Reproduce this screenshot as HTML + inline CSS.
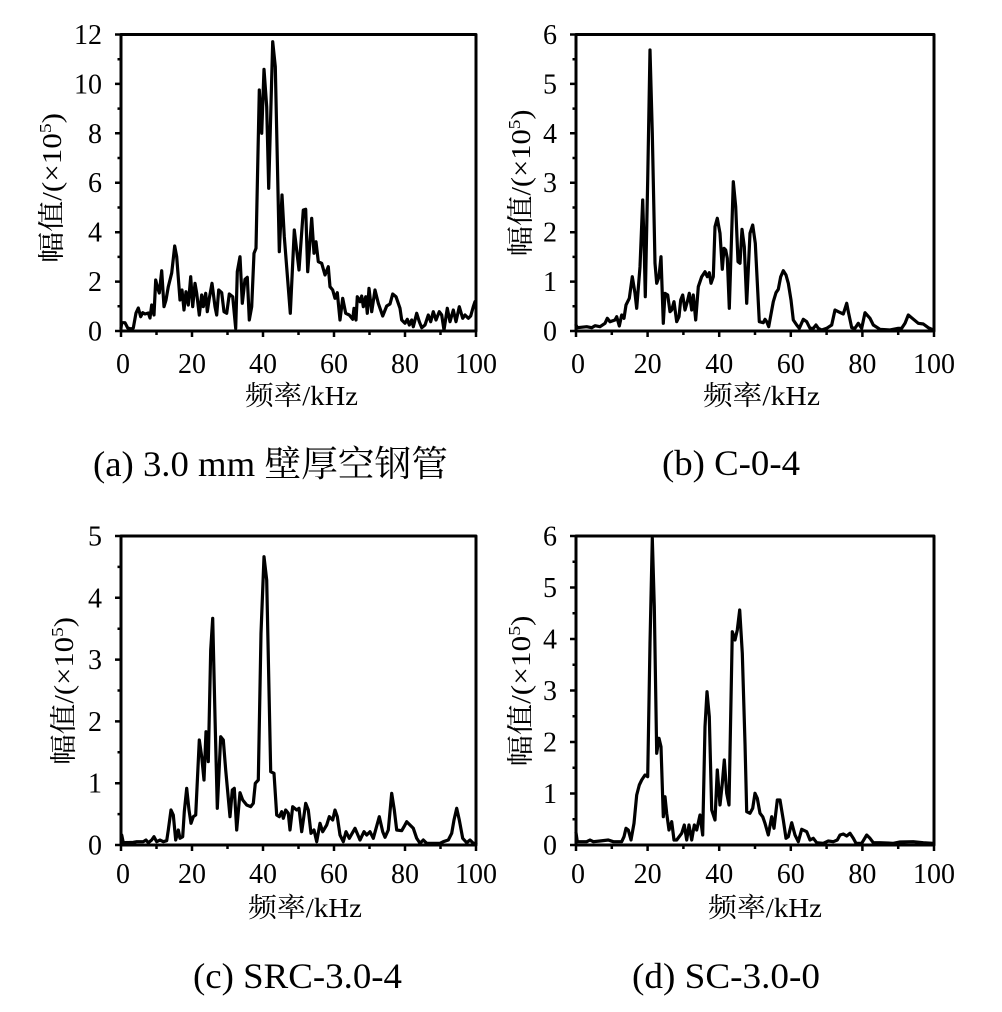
<!DOCTYPE html>
<html><head><meta charset="utf-8"><style>
html,body{margin:0;padding:0;background:#fff;}
svg{display:block;}
text{font-family:"Liberation Serif","Noto Serif CJK SC",serif;fill:#000;}
</style></head><body>
<svg width="1002" height="1012" viewBox="0 0 1002 1012" xmlns="http://www.w3.org/2000/svg">
<g fill="none" stroke="#000" stroke-width="3" stroke-linejoin="round">
<rect x="121" y="34.5" width="355" height="296.5"/>
<rect x="576" y="34.5" width="358" height="296.5"/>
<rect x="121" y="536" width="355" height="309"/>
<rect x="576" y="536" width="358" height="309"/>
</g>
<g stroke="#000" stroke-width="2.5">
<path d="M115 331H121M115 281.6H121M115 232.2H121M115 182.7H121M115 133.3H121M115 83.9H121M115 34.5H121
M117.5 306.3H121M117.5 256.9H121M117.5 207.5H121M117.5 158H121M117.5 108.6H121M117.5 59.2H121"/>
<path d="M121 331V337M192 331V337M263 331V337M334 331V337M405 331V337M476 331V337
M156.5 331V335M227.5 331V335M298.5 331V335M369.5 331V335M440.5 331V335"/>
<path d="M570 331H576M570 281.6H576M570 232.2H576M570 182.7H576M570 133.3H576M570 83.9H576M570 34.5H576
M572.5 306.3H576M572.5 256.9H576M572.5 207.5H576M572.5 158H576M572.5 108.6H576M572.5 59.2H576"/>
<path d="M576 331V337M647.6 331V337M719.2 331V337M790.8 331V337M862.4 331V337M934 331V337
M611.8 331V335M683.4 331V335M755 331V335M826.6 331V335M898.2 331V335"/>
<path d="M115 845H121M115 783.2H121M115 721.4H121M115 659.6H121M115 597.8H121M115 536H121
M117.5 814.1H121M117.5 752.3H121M117.5 690.5H121M117.5 628.7H121M117.5 566.9H121"/>
<path d="M121 845V851M192 845V851M263 845V851M334 845V851M405 845V851M476 845V851
M156.5 845V849M227.5 845V849M298.5 845V849M369.5 845V849M440.5 845V849"/>
<path d="M570 845H576M570 793.5H576M570 742H576M570 690.5H576M570 639H576M570 587.5H576M570 536H576
M572.5 819.3H576M572.5 767.8H576M572.5 716.3H576M572.5 664.8H576M572.5 613.3H576M572.5 561.8H576"/>
<path d="M576 845V851M647.6 845V851M719.2 845V851M790.8 845V851M862.4 845V851M934 845V851
M611.8 845V849M683.4 845V849M755 845V849M826.6 845V849M898.2 845V849"/>
</g>

<g fill="none" stroke="#000" stroke-width="3.2" stroke-linejoin="round" stroke-linecap="round">
<polyline points="121,328 121.7,322.7 125,322.7 127.7,328 131.7,329 133.3,328 136,313 138.3,308 140.7,316.7 142.7,312.7 145,314 148.3,313 150,318 151.7,305 154,315 155.7,280 157.3,286.7 159.3,293 161.7,270.7 164,306.7 166,300 168.3,286.7 171.7,273 174.7,246 176.7,256.7 180,300 182,290 184,310 186,291.7 188.3,305 190.7,276.7 192.7,306.7 195,283.3 196.7,293.3 199.3,315 201.7,295 203.3,306.7 205.7,293.3 207.3,311.7 209.3,298.3 212,283.3 215,306.7 216.7,315 218.7,290 221.7,292.7 224,311.7 226.7,313.3 229.3,294 232.7,296.7 235.7,328.3 237.3,271.7 240,256.7 242.3,303.3 245,279.3 247.3,277.3 249.3,320 251.7,306.7 254,253.3 256,248.3 259.3,90 261.7,133.3 264,69.3 266.7,106.7 268.7,188.3 272.7,41.7 275.3,66.7 279.3,251.7 282,195 284.3,236.7 290.3,313.3 294.3,230 299,270 303.3,210 305.7,209.3 307.7,271.7 311.7,218.3 314,253.3 316,241.7 318.3,261.7 321.7,263.3 325,275 328.3,266.7 330,286.7 332.7,290 335,298.3 337.3,292.7 340,320 342.7,298.3 345.7,313.3 349.3,315 352.7,319.3 354,308.3 356,320 357.3,296.7 360,301.7 361.7,296 363.3,306.7 365.7,296.7 367.3,313.3 369,288.3 371.7,311.7 375,290 378.3,303.3 382.7,316 386.7,306 390,304 392.7,294 396,296.7 400,308.3 401.7,320 405,323.3 407.3,319.3 409.3,325 411.7,320 413.3,326.7 416.7,313.3 419.3,321.7 421.7,327.7 425,325 428.3,315 430.7,321.7 433.3,311.7 436,320 439.3,311.7 441.7,315 444,330 447.3,308.3 450,321.7 453.3,310 456,321.7 459.3,306.7 462.7,318.3 465,315 468.3,318.3 470.7,316 473.3,306.7 475,301.7"/>
<polyline points="576,325 577.3,327.7 586.7,326.7 591.7,327.7 595,325.7 600,326.7 605,323.3 607.3,318.3 610,321.7 615,320 616.7,316.7 619.3,326 621.7,315 624,318.3 626,305 629.3,298.3 632.3,276.7 635,293.3 636.7,308.3 640,266.7 642.7,200 644.3,253.3 645.3,296.7 647.7,180 650,50 652.3,133.3 655,263.3 656.7,283.3 659,276.7 661,256.7 663.3,323.3 665,293.3 667.7,295 670,311.7 671.7,310 674,301.7 676.7,321.7 679,316.7 680.7,300 682.7,295 685,310 687.3,301.7 689.3,293.3 691.7,310 693.3,295 695.7,320 698.3,286.7 701.7,276.7 705,271.7 707.3,276.7 709.3,272.7 711,283.3 713.3,276.7 715,226.7 717.3,218.3 720,233.3 722.3,269.3 724,248.3 725.7,250 727.3,258.3 729.3,308.3 733.3,181.7 735.7,206.7 738,261.7 740,263.3 742,229.3 744.3,246.7 746.7,303.3 750,233.3 752.7,225 755.3,243.3 759.3,321.7 763.3,322.7 765,319.3 766.7,321.7 768.7,326.7 773.3,301.7 776,292.7 778.3,289.3 780.7,276.7 783.3,270.7 786,275 788.3,283.3 791,300 793.3,320 796.7,325 799.3,328.3 803.3,319.3 806.7,321.7 810,328.3 813.3,328.3 816,325 818.3,328.3 821.7,330 826.7,328.3 831.7,325 835,310 838.3,311.7 843.3,314 846.7,303.3 848.3,311.7 851.7,327.7 855,328.3 858.3,323.3 861.7,328.3 865,312.7 870,318.3 873.3,325 880,329.3 890,330 898.3,328.3 901.7,328.3 905,323.3 908.3,315 912.3,318.3 918.3,323.3 923.3,324 928.3,327.7 933.3,330"/>
<polyline points="121.7,835 123.3,842.7 133.3,842.3 136.7,841.7 143.3,841.7 146,840 148.3,842.7 151.7,840 154,836.7 156.7,841.7 160,840 163.3,841.7 166.7,840.7 168.3,830 171,810 173.3,815 175.7,840 178.3,830 180,838.3 182.7,836.7 184.3,811.7 186.7,788.3 189,810 191,823.3 193.3,816.7 195.7,815 199.3,740 201.7,756.7 204,780 206,731.7 208.3,761.7 210.7,650 212.7,618.3 215,716.7 217.3,808.3 220.7,736.7 223.3,740 225.7,770 230,816.7 232.3,790 234.3,788.3 236.7,830 240,792.7 242.7,800 246.7,805 250.7,806.7 253.3,803.3 255.3,783.3 258.3,780 261,633.3 264,556.7 266.7,580 270.7,771.7 274,773.3 276.7,815 279.3,816.7 281.7,811.7 283.3,818.3 285.7,810 288.3,813.3 290,830 292.7,806.7 296.7,810 299,808.3 301.7,831.7 305.7,803.3 308.3,810 311,833.3 314,830 316.7,841.7 320,823.3 322.7,831.7 326.7,825 329.3,816.7 332.7,820 335,810 337.3,816.7 340,835 343.3,841.7 346,831.7 349.3,838.3 355,828.3 360,840 364,831.7 366.7,835 370,831.7 373.3,838.3 379.3,816.7 382.7,831.7 385,837.3 388.3,830 391.7,793.3 394.3,810 396.7,830 401.7,830.7 404,826.7 406.7,821.7 410,825 413.3,828.3 416.7,838.3 420,843.3 423.3,840 426.7,843.3 440,843.3 443.3,841.7 448.3,840 451.7,833.3 454,820 456.7,808.3 459.3,820 462.7,838.3 466.7,842.7 470,840 473.3,843.3 476,843.3"/>
<polyline points="576,832.7 577.3,841.7 586.7,841.7 590,840 593.3,841.7 600,841 608.3,840 613.3,841.7 621.7,841.7 624,836.7 626,828.3 628.3,830 631,840 634,823.3 636.7,795 639.3,785 641.7,780 645,775 647.7,776.7 650,643.3 652.3,538.3 654.3,606.7 656.7,753.3 659,738.3 661,746.7 663.3,816.7 665,796.7 666.7,813.3 669,830 671.7,821.7 674,840 676.7,840 681.7,833.3 684.3,825 686.7,840 689,825 691.7,840 694.3,825 696.7,830 700,815 702.7,835 705,726.7 707,691.7 709.3,716.7 711.7,810 715,820 717.3,770 720,805 722.3,783.3 724.3,760 726.7,793.3 729,805 732.3,631.7 735,640 737.3,630 739.7,610 742.3,653.3 745,743.3 746.7,811.7 750,813.3 752.7,808.3 755,793.3 757.3,798.3 760,813.3 762.7,816.7 765,823.3 768.3,835 771.7,816.7 774,828.3 777.3,800 780,800 783.3,820 786,838.3 788.3,836.7 791.7,822.7 795,835 798.3,841.7 801.7,829.3 806.7,831.7 810,840 813.3,838.3 816.7,842.7 823.3,843.3 828.3,841 833.3,841.7 837.3,840 840,835 843.3,834 846.7,836 850,833.3 853.3,838.3 856,843.3 861.7,843.3 866.7,835 870,838.3 873.3,842.7 880,842.7 893.3,843.3 900,842 913.3,841.7 923.3,842.7 933.3,843.3"/>
</g>

<g font-size="28" text-anchor="end">
<text x="102" y="340.5">0</text><text x="102" y="291">2</text><text x="102" y="241.7">4</text><text x="102" y="192.2">6</text><text x="102" y="142.8">8</text><text x="102" y="93.4">10</text><text x="102" y="44">12</text>
<text x="557" y="340.5">0</text><text x="557" y="291">1</text><text x="557" y="241.7">2</text><text x="557" y="192.2">3</text><text x="557" y="142.8">4</text><text x="557" y="93.4">5</text><text x="557" y="44">6</text>
<text x="102" y="854.5">0</text><text x="102" y="792.7">1</text><text x="102" y="730.9">2</text><text x="102" y="669.1">3</text><text x="102" y="607.3">4</text><text x="102" y="545.5">5</text>
<text x="557" y="854.5">0</text><text x="557" y="803">1</text><text x="557" y="751.5">2</text><text x="557" y="700">3</text><text x="557" y="648.5">4</text><text x="557" y="597">5</text><text x="557" y="545.5">6</text>
</g>
<g font-size="28" text-anchor="middle">
<text x="123" y="373">0</text><text x="192" y="373">20</text><text x="263" y="373">40</text><text x="334" y="373">60</text><text x="405" y="373">80</text><text x="476" y="373">100</text>
<text x="578" y="373">0</text><text x="647.6" y="373">20</text><text x="719.2" y="373">40</text><text x="790.8" y="373">60</text><text x="862.4" y="373">80</text><text x="934" y="373">100</text>
<text x="123" y="883">0</text><text x="192" y="883">20</text><text x="263" y="883">40</text><text x="334" y="883">60</text><text x="405" y="883">80</text><text x="476" y="883">100</text>
<text x="578" y="883">0</text><text x="647.6" y="883">20</text><text x="719.2" y="883">40</text><text x="790.8" y="883">60</text><text x="862.4" y="883">80</text><text x="934" y="883">100</text>
</g>

<g font-size="27">
<text x="245" y="405" textLength="113" lengthAdjust="spacingAndGlyphs">频率/kHz</text>
<text x="703" y="405" textLength="117" lengthAdjust="spacingAndGlyphs">频率/kHz</text>
<text x="248" y="917" textLength="114" lengthAdjust="spacingAndGlyphs">频率/kHz</text>
<text x="708" y="917" textLength="114" lengthAdjust="spacingAndGlyphs">频率/kHz</text>
</g>

<g font-size="27">
<text transform="translate(61,188) rotate(-90)" text-anchor="middle" textLength="150" lengthAdjust="spacingAndGlyphs">幅值/(×10<tspan font-size="17" dy="-10">5</tspan><tspan dy="10">)</tspan></text>
<text transform="translate(530,183) rotate(-90)" text-anchor="middle" textLength="147" lengthAdjust="spacingAndGlyphs">幅值/(×10<tspan font-size="17" dy="-10">5</tspan><tspan dy="10">)</tspan></text>
<text transform="translate(73,691) rotate(-90)" text-anchor="middle" textLength="148" lengthAdjust="spacingAndGlyphs">幅值/(×10<tspan font-size="17" dy="-10">5</tspan><tspan dy="10">)</tspan></text>
<text transform="translate(530,691) rotate(-90)" text-anchor="middle" textLength="151" lengthAdjust="spacingAndGlyphs">幅值/(×10<tspan font-size="17" dy="-10">5</tspan><tspan dy="10">)</tspan></text>
</g>

<g font-size="36">
<text x="93" y="476" textLength="355" lengthAdjust="spacingAndGlyphs">(a) 3.0 mm 壁厚空钢管</text>
<text x="662" y="475" textLength="138" lengthAdjust="spacingAndGlyphs">(b) C-0-4</text>
<text x="193" y="988" textLength="209" lengthAdjust="spacingAndGlyphs">(c) SRC-3.0-4</text>
<text x="632" y="988" textLength="188" lengthAdjust="spacingAndGlyphs">(d) SC-3.0-0</text>
</g>
</svg>
</body></html>
